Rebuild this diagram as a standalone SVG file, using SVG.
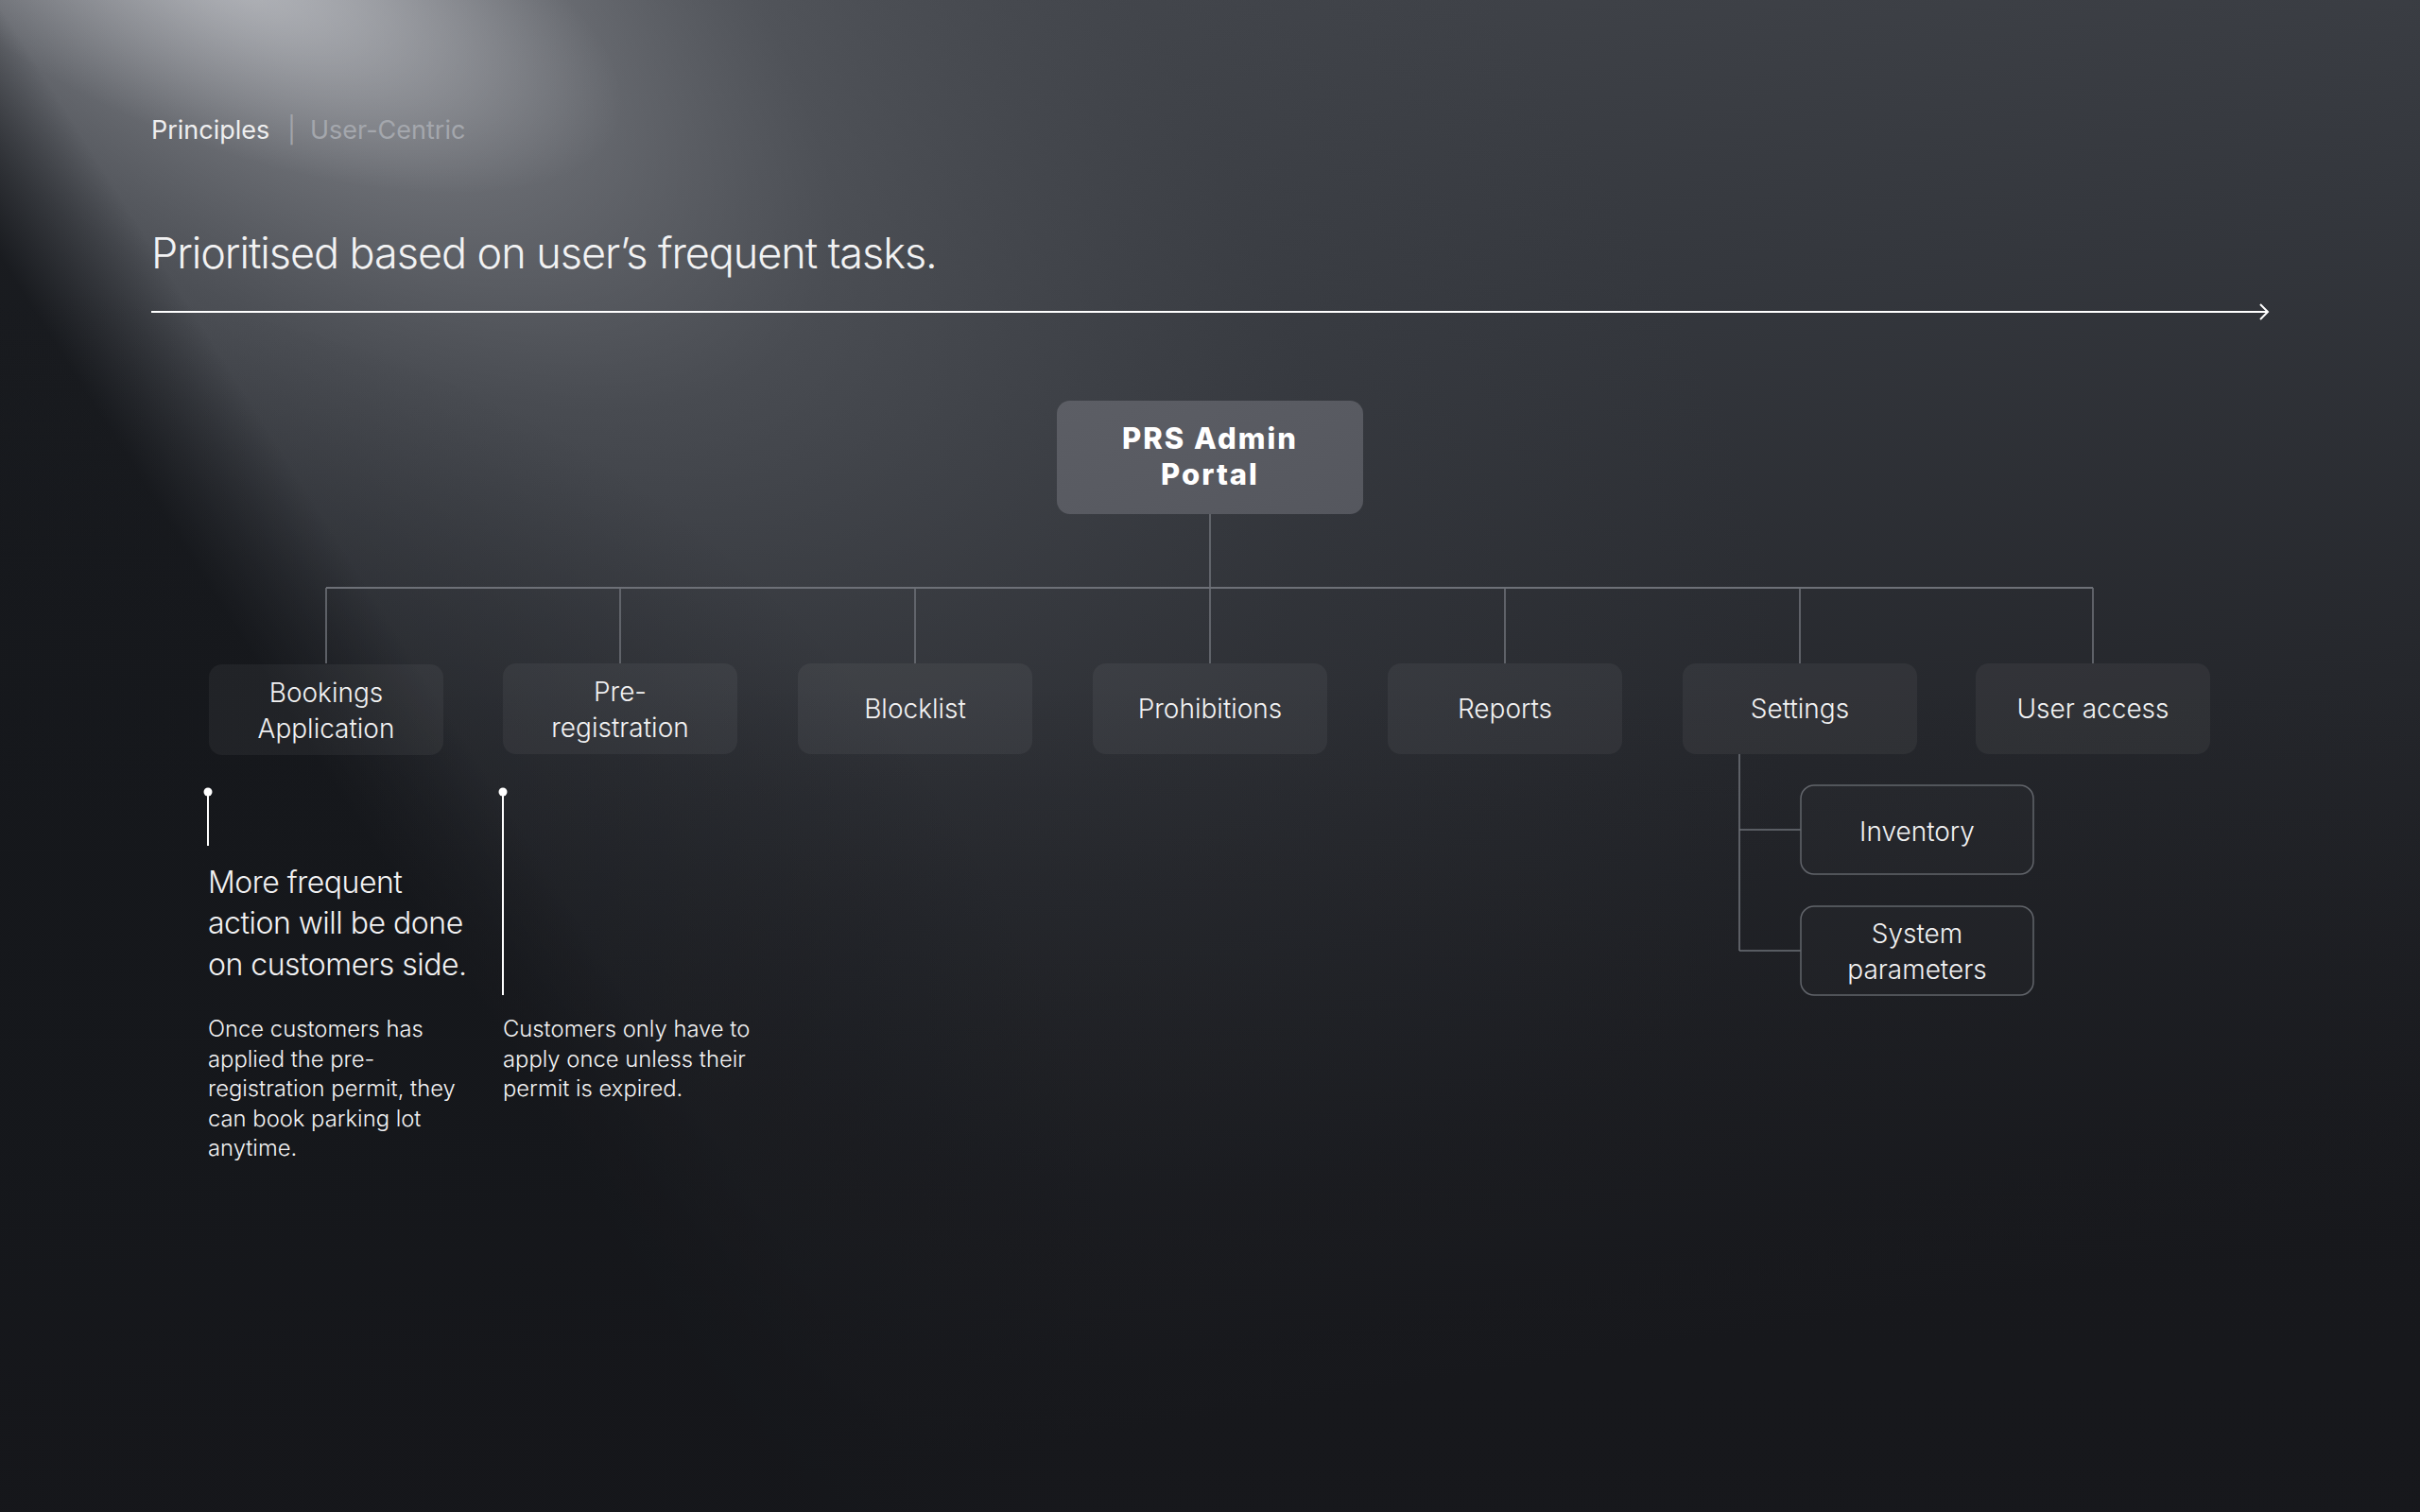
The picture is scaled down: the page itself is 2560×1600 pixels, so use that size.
<svg xmlns="http://www.w3.org/2000/svg" width="2560" height="1600" viewBox="0 0 2560 1600">
  <defs>
    <linearGradient id="bgBase" x1="0" y1="0" x2="0.25" y2="1">
      <stop offset="0" stop-color="#46494f"/>
      <stop offset="0.35" stop-color="#34373d"/>
      <stop offset="0.65" stop-color="#25272c"/>
      <stop offset="1" stop-color="#18191d"/>
    </linearGradient>
    <radialGradient id="spotWide" gradientUnits="userSpaceOnUse" cx="0" cy="0" r="1" gradientTransform="translate(200 -120) rotate(36) scale(2000 900)">
      <stop offset="0" stop-color="#b4b6bb" stop-opacity="0.9"/>
      <stop offset="0.15" stop-color="#9a9ca2" stop-opacity="0.65"/>
      <stop offset="0.4" stop-color="#73767c" stop-opacity="0.3"/>
      <stop offset="0.7" stop-color="#55585e" stop-opacity="0.1"/>
      <stop offset="1" stop-color="#4a4d54" stop-opacity="0"/>
    </radialGradient>
    <radialGradient id="spotCore" gradientUnits="userSpaceOnUse" cx="0" cy="0" r="1" gradientTransform="translate(260 -10) rotate(20) scale(420 170)">
      <stop offset="0" stop-color="#c8cacf" stop-opacity="0.55"/>
      <stop offset="1" stop-color="#c8cacf" stop-opacity="0"/>
    </radialGradient>
    <linearGradient id="leftDark" gradientUnits="userSpaceOnUse" x1="215" y1="346" x2="95" y2="422">
      <stop offset="0" stop-color="#14161a" stop-opacity="0"/>
      <stop offset="1" stop-color="#14161a" stop-opacity="0.9"/>
    </linearGradient>
    <radialGradient id="lowerLeftDark" gradientUnits="userSpaceOnUse" cx="0" cy="1500" r="1200">
      <stop offset="0" stop-color="#15171b" stop-opacity="0.75"/>
      <stop offset="0.6" stop-color="#15171b" stop-opacity="0.45"/>
      <stop offset="1" stop-color="#15171b" stop-opacity="0"/>
    </radialGradient>
    <linearGradient id="bottomDark" x1="0" y1="0" x2="0" y2="1">
      <stop offset="0.45" stop-color="#16171b" stop-opacity="0"/>
      <stop offset="1" stop-color="#16171b" stop-opacity="0.6"/>
    </linearGradient>
    <linearGradient id="rootFill" x1="0" y1="0" x2="1" y2="1">
      <stop offset="0" stop-color="#5c5e65"/>
      <stop offset="1" stop-color="#55575e"/>
    </linearGradient>
    <style>
      .lbl { font-family: Inter, "Liberation Sans", sans-serif; font-weight: 300; fill: #f2f2f3; }
      .node rect { fill: #ffffff; fill-opacity: 0.05; }
      .node text { font-size: 28px; text-anchor: middle; }
      .sub rect { fill: #ffffff; fill-opacity: 0.015; stroke: #62656b; stroke-width: 1.5; }
      .conn { fill: none; stroke: #6d7077; stroke-width: 1.6; }
      .ann { stroke: #ffffff; stroke-width: 2; fill: none; }
      .dot { fill: #ffffff; }
      .big { font-size: 32px; letter-spacing: -0.5px; }
      .small { font-size: 23.8px; }
    </style>
  </defs>

  <!-- background -->
  <rect x="0" y="0" width="2560" height="1600" fill="url(#bgBase)"/>
  <rect x="0" y="0" width="2560" height="1600" fill="url(#spotWide)"/>
  <rect x="0" y="0" width="2560" height="1600" fill="url(#spotCore)"/>
  <rect x="0" y="0" width="2560" height="1600" fill="url(#leftDark)"/>
  <rect x="0" y="0" width="2560" height="1600" fill="url(#lowerLeftDark)"/>
  <rect x="0" y="0" width="2560" height="1600" fill="url(#bottomDark)"/>

  <!-- header -->
  <g id="header">
    <text x="160" y="147" class="lbl" style="font-size:27px;font-weight:400;fill:#eeeeef">Principles</text>
    <text x="304" y="147" class="lbl" style="font-size:27px;font-weight:400;fill:#a2a4aa">|</text>
    <text x="328" y="147" class="lbl" style="font-size:27px;font-weight:400;fill:#a4a7ad">User-Centric</text>
    <text x="160" y="284" class="lbl" style="font-size:45px;letter-spacing:-1.05px">Prioritised based on user’s frequent tasks.</text>
    <path d="M160 330 H2398" stroke="#ffffff" stroke-width="2" fill="none"/>
    <path d="M2391 322 L2399 330 L2391 338" stroke="#ffffff" stroke-width="2" fill="none"/>
  </g>

  <!-- connectors -->
  <g id="connectors" class="conn">
    <path d="M1280 544 V622"/>
    <path d="M345 622 H2214" stroke-width="2"/>
    <path d="M345 622 V702"/>
    <path d="M656 622 V702"/>
    <path d="M968 622 V702"/>
    <path d="M1280 622 V702"/>
    <path d="M1592 622 V702"/>
    <path d="M1904 622 V702"/>
    <path d="M2214 622 V702"/>
    <path d="M1840 798 V1006"/>
    <path d="M1840 878 H1905"/>
    <path d="M1840 1006 H1905"/>
  </g>

  <!-- root -->
  <g id="root">
    <rect x="1118" y="424" width="324" height="120" rx="14" fill="url(#rootFill)"/>
    <text x="1280" y="475" text-anchor="middle" style="font-family:Inter,'Liberation Sans',sans-serif;font-weight:800;font-size:31px;letter-spacing:2px;fill:#ffffff">PRS Admin</text>
    <text x="1280" y="513" text-anchor="middle" style="font-family:Inter,'Liberation Sans',sans-serif;font-weight:800;font-size:31px;letter-spacing:2px;fill:#ffffff">Portal</text>
  </g>

  <!-- children -->
  <g id="node-bookings" class="node">
    <rect x="221" y="703" width="248" height="96" rx="14"/>
    <text class="lbl" x="345" y="743">Bookings</text>
    <text class="lbl" x="345" y="781">Application</text>
  </g>
  <g id="node-prereg" class="node">
    <rect x="532" y="702" width="248" height="96" rx="14"/>
    <text class="lbl" x="656" y="742">Pre-</text>
    <text class="lbl" x="656" y="780">registration</text>
  </g>
  <g id="node-blocklist" class="node">
    <rect x="844" y="702" width="248" height="96" rx="14"/>
    <text class="lbl" x="968" y="760">Blocklist</text>
  </g>
  <g id="node-prohibitions" class="node">
    <rect x="1156" y="702" width="248" height="96" rx="14"/>
    <text class="lbl" x="1280" y="760">Prohibitions</text>
  </g>
  <g id="node-reports" class="node">
    <rect x="1468" y="702" width="248" height="96" rx="14"/>
    <text class="lbl" x="1592" y="760">Reports</text>
  </g>
  <g id="node-settings" class="node">
    <rect x="1780" y="702" width="248" height="96" rx="14"/>
    <text class="lbl" x="1904" y="760">Settings</text>
  </g>
  <g id="node-useraccess" class="node">
    <rect x="2090" y="702" width="248" height="96" rx="14"/>
    <text class="lbl" x="2214" y="760">User access</text>
  </g>

  <!-- settings sub nodes -->
  <g id="node-inventory" class="node sub">
    <rect x="1905" y="831" width="246" height="94" rx="14"/>
    <text class="lbl" x="2028" y="890">Inventory</text>
  </g>
  <g id="node-sysparams" class="node sub">
    <rect x="1905" y="959" width="246" height="94" rx="14"/>
    <text class="lbl" x="2028" y="998">System</text>
    <text class="lbl" x="2028" y="1036">parameters</text>
  </g>

  <!-- annotations -->
  <g id="annotation-1">
    <circle class="dot" cx="220" cy="838" r="4.5"/>
    <path class="ann" d="M220 838 V895"/>
    <text class="lbl big" x="220" y="945">More frequent</text>
    <text class="lbl big" x="220" y="988">action will be done</text>
    <text class="lbl big" x="220" y="1032">on customers side.</text>
    <text class="lbl small" x="220" y="1097">Once customers has</text>
    <text class="lbl small" x="220" y="1129">applied the pre-</text>
    <text class="lbl small" x="220" y="1160">registration permit, they</text>
    <text class="lbl small" x="220" y="1192">can book parking lot</text>
    <text class="lbl small" x="220" y="1223">anytime.</text>
  </g>
  <g id="annotation-2">
    <circle class="dot" cx="532" cy="838" r="4.5"/>
    <path class="ann" d="M532 838 V1053"/>
    <text class="lbl small" x="532" y="1097">Customers only have to</text>
    <text class="lbl small" x="532" y="1129">apply once unless their</text>
    <text class="lbl small" x="532" y="1160">permit is expired.</text>
  </g>
</svg>
